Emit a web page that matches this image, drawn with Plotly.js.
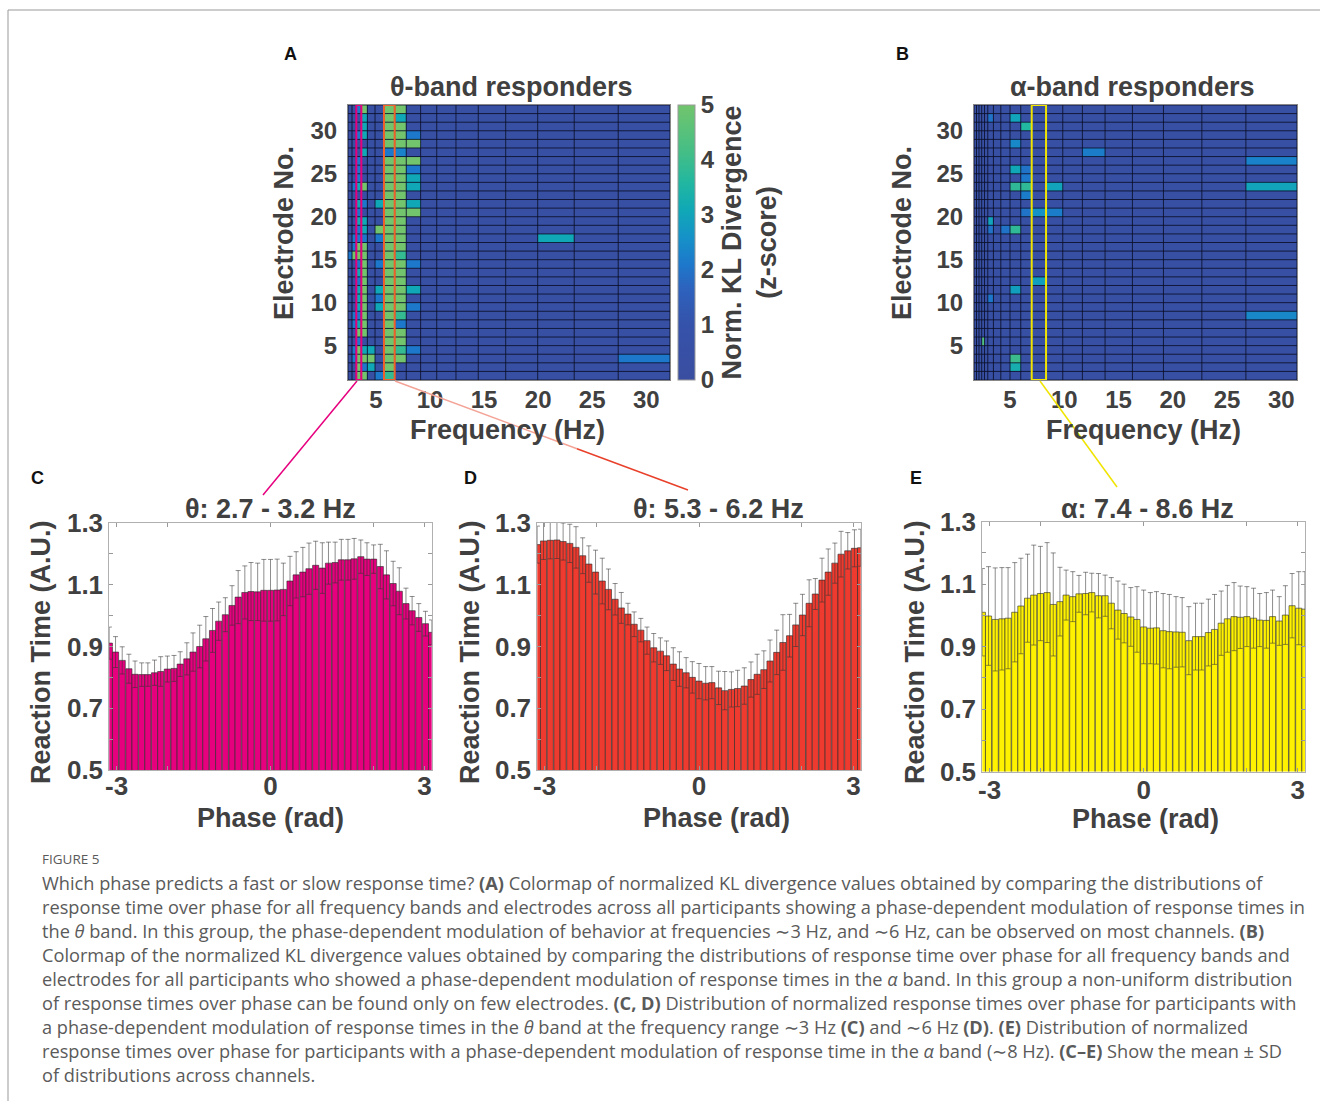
<!DOCTYPE html>
<html><head><meta charset="utf-8">
<script src="https://cdn.plot.ly/plotly-3.0.1.min.js"></script>
<style>html,body{margin:0;padding:0;background:#fff;}#chart{width:1320px;height:1101px;}</style>
</head><body><div id="chart"></div>
<script>
// ---------- DATA ----------
const freqEdgesTheta = [2.41, 2.78, 3.18, 3.64, 4.20, 4.91, 5.74, 6.73, 7.80, 9.13, 10.62, 12.40, 14.46, 17.00, 19.96, 23.34, 27.41, 32.20];
const freqEdgesAlpha = [1.68, 1.91, 2.14, 2.39, 2.65, 2.95, 3.47, 4.15, 5.00, 5.99, 7.00, 8.32, 9.86, 11.67, 13.76, 16.28, 19.14, 22.68, 26.74, 31.45];
const electrodeEdges = [1,2,3,4,5,6,7,8,9,10,11,12,13,14,15,16,17,18,19,20,21,22,23,24,25,26,27,28,29,30,31,32,33];
const freqTicks = [5, 10, 15, 20, 25, 30];
const electrodeTicks = [5, 10, 15, 20, 25, 30];

// rows listed from electrode 32 (top) down to electrode 1 (bottom)
const klThetaTopDown = [
 [.4,.4,2.1,5,.4,.4,5,5,.4,.4,.4,.4,.4,.4,.4,.4,.4],
 [.4,.4,.4,3.1,.4,.4,5,3.1,.4,.4,.4,.4,.4,.4,.4,.4,.4],
 [.4,.4,.4,3.1,.4,.4,5,5,.4,.4,.4,.4,.4,.4,.4,.4,.4],
 [.4,.4,2.1,3.1,.4,.4,5,5,2.1,.4,.4,.4,.4,.4,.4,.4,.4],
 [.4,.4,.4,.4,.4,.4,5,5,5,.4,.4,.4,.4,.4,.4,.4,.4],
 [.4,.4,.4,3.1,.4,.4,2.1,2.3,.4,.4,.4,.4,.4,.4,.4,.4,.4],
 [.4,.4,2.1,.4,.4,.4,5,5,5,.4,.4,.4,.4,.4,.4,.4,.4],
 [.4,.4,2.1,.4,.4,.4,5,5,2.1,.4,.4,.4,.4,.4,.4,.4,.4],
 [.4,.4,2.1,.4,.4,.4,5,5,3.1,.4,.4,.4,.4,.4,.4,.4,.4],
 [.4,2.1,3.1,5,.4,.4,5,5,3.1,.4,.4,.4,.4,.4,.4,.4,.4],
 [.4,.4,.4,.4,.4,.4,5,5,.4,.4,.4,.4,.4,.4,.4,.4,.4],
 [.4,.4,3.1,2.1,.4,3.1,5,5,3.1,.4,.4,.4,.4,.4,.4,.4,.4],
 [.4,.4,2.1,.4,.4,.4,5,5,5,.4,.4,.4,.4,.4,.4,.4,.4],
 [.4,.4,3.1,3.1,.4,.4,5,5,.4,.4,.4,.4,.4,.4,.4,.4,.4],
 [.4,.4,2.1,3.1,.4,5,5,5,.4,.4,.4,.4,.4,.4,.4,.4,.4],
 [.4,2.1,2.1,2.1,.4,2.1,5,5,.4,.4,.4,.4,.4,.4,3.1,.4,.4],
 [.4,2.1,5,5,.4,.4,5,5,.4,.4,.4,.4,.4,.4,.4,.4,.4],
 [2.1,5,5,5,.4,.4,5,3.9,.4,.4,.4,.4,.4,.4,.4,.4,.4],
 [.4,.4,2.1,5,.4,2.1,5,5,2.1,.4,.4,.4,.4,.4,.4,.4,.4],
 [.4,.4,3.1,5,.4,.4,5,5,.4,.4,.4,.4,.4,.4,.4,.4,.4],
 [.4,.4,2.1,5,.4,.4,5,5,.4,.4,.4,.4,.4,.4,.4,.4,.4],
 [.4,.4,3.1,5,.4,3.1,5,5,3.1,.4,.4,.4,.4,.4,.4,.4,.4],
 [.4,.4,3.1,5,.4,2.1,5,5,.4,.4,.4,.4,.4,.4,.4,.4,.4],
 [.4,.4,3.1,5,.4,3.1,5,5,2.1,.4,.4,.4,.4,.4,.4,.4,.4],
 [.4,2.1,2.1,5,.4,.4,5,3.9,.4,.4,.4,.4,.4,.4,.4,.4,.4],
 [.4,2.1,3.1,5,.4,.4,5,2.1,.4,.4,.4,.4,.4,.4,.4,.4,.4],
 [.4,.4,5,5,.4,.4,5,5,.4,.4,.4,.4,.4,.4,.4,.4,.4],
 [.4,.4,2.1,.4,.4,.4,5,5,.4,.4,.4,.4,.4,.4,.4,.4,.4],
 [.4,2.1,5,3.1,3.1,.4,5,3.9,2.1,.4,.4,.4,.4,.4,.4,.4,.4],
 [.4,2.1,5,5,5,.4,5,5,.4,.4,.4,.4,.4,.4,.4,.4,2.1],
 [.4,.4,5,2.1,3.1,.4,5,.4,.4,.4,.4,.4,.4,.4,.4,.4,.4],
 [.4,.4,5,5,.4,2.1,3.9,.4,.4,.4,.4,.4,.4,.4,.4,.4,.4]
];
const klAlphaTopDown = [
 [.4,.4,.4,.4,.4,.4,.4,.4,.4,.4,.4,.4,.4,.4,.4,.4,.4,.4,.4],
 [.4,.4,.4,.4,.4,2.0,.4,.4,3.0,.4,.4,.4,.4,.4,.4,.4,.4,.4,.4],
 [.4,.4,.4,.4,.4,.4,.4,.4,.4,3.6,.4,.4,.4,.4,.4,.4,.4,.4,.4],
 [.4,.4,.4,.4,.4,.4,.4,.4,.4,.4,.4,.4,.4,.4,.4,.4,.4,.4,.4],
 [.4,.4,.4,.4,.4,.4,.4,.4,2.4,.4,.4,.4,.4,.4,.4,.4,.4,.4,.4],
 [.4,.4,.4,.4,.4,.4,.4,.4,.4,.4,.4,.4,.4,2.2,.4,.4,.4,.4,.4],
 [.4,.4,.4,.4,.4,.4,.4,.4,.4,.4,.4,.4,.4,.4,.4,.4,.4,.4,2.3],
 [.4,.4,.4,.4,.4,.4,.4,.4,3.1,2.0,.4,.4,.4,.4,.4,.4,.4,.4,.4],
 [.4,.4,.4,.4,.4,.4,.4,.4,.4,2.1,.4,.4,.4,.4,.4,.4,.4,.4,.4],
 [.4,.4,.4,.4,.4,.4,.4,.4,3.8,3.8,.4,3.0,.4,.4,.4,.4,.4,.4,3.0],
 [.4,.4,.4,.4,.4,.4,.4,.4,.4,2.2,.4,.4,.4,.4,.4,.4,.4,.4,.4],
 [.4,.4,.4,.4,.4,.4,.4,.4,.4,.4,.4,.4,.4,.4,.4,.4,.4,.4,.4],
 [.4,.4,.4,.4,.4,.4,.4,.4,.4,2.0,2.6,2.2,.4,.4,.4,.4,.4,.4,.4],
 [.4,.4,.4,.4,.4,3.0,.4,.4,.4,.4,.4,.4,.4,.4,.4,.4,.4,.4,.4],
 [.4,.4,.4,.4,.4,2.0,.4,2.0,3.8,.4,.4,.4,.4,.4,.4,.4,.4,.4,.4],
 [.4,.4,.4,.4,.4,.4,.4,.4,.4,.4,.4,.4,.4,.4,.4,.4,.4,.4,.4],
 [.4,.4,.4,.4,.4,.4,.4,.4,.4,.4,.4,.4,.4,.4,.4,.4,.4,.4,.4],
 [.4,.4,.4,.4,.4,.4,.4,.4,.4,.4,.4,.4,.4,.4,.4,.4,.4,.4,.4],
 [.4,.4,.4,.4,.4,.4,.4,.4,.4,.4,.4,.4,.4,.4,.4,.4,.4,.4,.4],
 [.4,.4,.4,.4,.4,.4,.4,.4,.4,.4,.4,.4,.4,.4,.4,.4,.4,.4,.4],
 [.4,.4,.4,.4,.4,.4,.4,.4,.4,.4,2.9,.4,.4,.4,.4,.4,.4,.4,.4],
 [.4,.4,.4,.4,.4,.4,.4,.4,2.9,.4,.4,.4,.4,.4,.4,.4,.4,.4,.4],
 [.4,.4,.4,.4,.4,2.1,.4,.4,.4,.4,.4,.4,.4,.4,.4,.4,.4,.4,.4],
 [.4,.4,.4,.4,.4,.4,.4,.4,.4,.4,.4,.4,.4,.4,.4,.4,.4,.4,.4],
 [.4,.4,.4,.4,.4,.4,.4,.4,.4,.4,.4,.4,.4,.4,.4,.4,.4,.4,2.4],
 [.4,.4,.4,.4,.4,.4,.4,.4,.4,.4,.4,.4,.4,.4,.4,.4,.4,.4,.4],
 [.4,.4,.4,.4,.4,.4,.4,.4,.4,.4,.4,.4,.4,.4,.4,.4,.4,.4,.4],
 [.4,.4,.4,4.4,.4,.4,.4,.4,.4,.4,.4,.4,.4,.4,.4,.4,.4,.4,.4],
 [.4,.4,.4,.4,.4,.4,.4,.4,.4,.4,.4,.4,.4,.4,.4,.4,.4,.4,.4],
 [.4,.4,.4,.4,.4,.4,.4,.4,4.0,.4,.4,.4,.4,.4,.4,.4,.4,.4,.4],
 [.4,.4,.4,.4,.4,.4,.4,.4,3.3,.4,.4,.4,.4,.4,.4,.4,.4,.4,.4],
 [.4,.4,.4,.4,.4,.4,.4,.4,.4,.4,.4,.4,.4,.4,.4,.4,.4,.4,.4]
];

const phase = [-3.14,-3.02,-2.89,-2.76,-2.64,-2.51,-2.39,-2.26,-2.14,-2.01,-1.88,-1.76,-1.63,-1.51,-1.38,-1.26,-1.13,-1.01,-0.88,-0.75,-0.63,-0.50,-0.38,-0.25,-0.13,0,0.13,0.25,0.38,0.50,0.63,0.75,0.88,1.01,1.13,1.26,1.38,1.51,1.63,1.76,1.88,2.01,2.14,2.26,2.39,2.51,2.64,2.76,2.89,3.02,3.14];
const phaseTicks = [-3, -2, 0, 2, 3];
const phaseTickText = ['-3', '', '0', '', '3'];
const rtTicks = [0.5,0.6,0.7,0.8,0.9,1.0,1.1,1.2,1.3];
const rtTickText = ['0.5','','0.7','','0.9','','1.1','','1.3'];

const rtTheta3Mean = [0.911,0.882,0.855,0.828,0.810,0.809,0.809,0.815,0.819,0.827,0.829,0.843,0.860,0.882,0.900,0.925,0.952,0.982,1.003,1.033,1.060,1.075,1.078,1.077,1.082,1.082,1.083,1.085,1.112,1.132,1.141,1.152,1.163,1.154,1.170,1.172,1.181,1.181,1.184,1.191,1.183,1.183,1.159,1.132,1.104,1.079,1.039,1.016,0.994,0.974,0.946];
const rtTheta3SD = [0.052,0.050,0.044,0.047,0.043,0.038,0.038,0.041,0.048,0.042,0.042,0.040,0.052,0.062,0.069,0.072,0.071,0.062,0.055,0.064,0.086,0.086,0.094,0.093,0.100,0.100,0.100,0.085,0.080,0.075,0.080,0.083,0.078,0.082,0.068,0.066,0.066,0.066,0.066,0.054,0.053,0.046,0.072,0.078,0.072,0.076,0.050,0.046,0.045,0.040,0.040];
const rtTheta6Mean = [1.230,1.242,1.244,1.245,1.240,1.234,1.221,1.194,1.167,1.141,1.112,1.085,1.053,1.025,1.005,0.972,0.953,0.919,0.896,0.885,0.870,0.843,0.827,0.815,0.800,0.788,0.781,0.783,0.766,0.757,0.761,0.764,0.772,0.793,0.810,0.825,0.853,0.881,0.913,0.935,0.970,1.002,1.040,1.070,1.115,1.141,1.170,1.199,1.210,1.218,1.220];
const rtTheta6SD = [0.060,0.060,0.060,0.060,0.060,0.062,0.067,0.058,0.059,0.071,0.074,0.066,0.051,0.050,0.035,0.040,0.038,0.044,0.046,0.043,0.048,0.053,0.056,0.049,0.051,0.057,0.054,0.052,0.054,0.062,0.057,0.059,0.059,0.057,0.065,0.061,0.068,0.072,0.090,0.069,0.070,0.067,0.076,0.050,0.071,0.075,0.065,0.074,0.059,0.060,0.060];
const rtAlpha8Mean = [1.010,0.998,0.987,0.989,0.991,1.010,1.030,1.055,1.065,1.070,1.073,1.035,1.044,1.065,1.060,1.069,1.070,1.073,1.063,1.063,1.039,1.017,1.006,0.995,0.987,0.963,0.959,0.960,0.951,0.948,0.947,0.946,0.919,0.932,0.932,0.945,0.955,0.975,0.989,0.996,0.994,0.996,0.991,0.985,0.984,0.996,0.982,1.001,1.031,1.023,1.020];
const rtAlpha8SD = [0.140,0.158,0.165,0.164,0.162,0.159,0.153,0.141,0.160,0.151,0.160,0.165,0.110,0.080,0.080,0.059,0.068,0.062,0.071,0.066,0.082,0.093,0.094,0.094,0.105,0.118,0.114,0.116,0.119,0.119,0.113,0.111,0.109,0.107,0.107,0.107,0.112,0.103,0.107,0.109,0.100,0.096,0.096,0.085,0.089,0.085,0.078,0.094,0.103,0.117,0.120];

// ---------- LAYOUT HELPERS ----------
const W = 1320, H = 1101;
const fx = p => p / W;
const fy = p => 1 - p / H;
const FONT = 'Liberation Sans, Arial, sans-serif';
const TXT = '#404040';
const tick24 = {family: FONT, size: 24, color: TXT, weight: 'bold'};
const tick26 = {family: FONT, size: 26, color: TXT, weight: 'bold'};
const lab27 = {family: FONT, size: 27, color: TXT, weight: 'bold'};

const colors = [
  [0.00, '#3a4ea0'], [0.20, '#3552aa'], [0.33, '#2d62bd'], [0.42, '#1d78cb'],
  [0.52, '#1592c8'], [0.62, '#10a8b6'], [0.72, '#22b7a0'], [0.82, '#42bd88'],
  [0.92, '#5cc278'], [1.00, '#72c46d']
];

const reverseRows = m => m.slice().reverse();

const data = [
  {type: 'heatmap', x: freqEdgesTheta, y: electrodeEdges, z: reverseRows(klThetaTopDown),
   zmin: 0, zmax: 5, colorscale: colors, xaxis: 'x', yaxis: 'y', hoverinfo: 'skip',
   colorbar: {x: fx(678), xanchor: 'left', xref: 'paper', y: fy(380), yanchor: 'bottom', yref: 'paper',
     len: 275 / H, lenmode: 'fraction', thickness: 17, thicknessmode: 'pixels', xpad: 0, ypad: 0,
     outlinewidth: 1, outlinecolor: '#999', tickvals: [0,1,2,3,4,5], ticks: '',
     tickfont: tick24, ticklabelstandoff: 2,
     title: {text: 'Norm. KL Divergence<br>(z-score)', side: 'right', font: lab27}}},
  {type: 'heatmap', x: freqEdgesAlpha, y: electrodeEdges, z: reverseRows(klAlphaTopDown),
   zmin: 0, zmax: 5, colorscale: colors, showscale: false, xaxis: 'x2', yaxis: 'y2', hoverinfo: 'skip'}
];

const barSpecs = [
  {mean: rtTheta3Mean, sd: rtTheta3SD, color: '#e6007e', xa: 'x3', ya: 'y3'},
  {mean: rtTheta6Mean, sd: rtTheta6SD, color: '#ef3b2f', xa: 'x4', ya: 'y4'},
  {mean: rtAlpha8Mean, sd: rtAlpha8SD, color: '#fff200', xa: 'x5', ya: 'y5'}
];
const barWidth = phase[1] - phase[0];
barSpecs.forEach(s => {
  data.push({type: 'bar', x: phase, y: s.mean, width: barWidth, xaxis: s.xa, yaxis: s.ya,
    marker: {color: s.color, line: {color: 'rgba(40,40,40,0.75)', width: 0.8}},
    error_y: {type: 'data', array: s.sd, visible: true, color: 'rgba(50,50,50,0.55)', thickness: 1, width: 2.5},
    hoverinfo: 'skip'});
});

function hmX(dom, edges) {
  return {domain: dom, range: [edges[0], edges[edges.length - 1]], tickvals: freqTicks, ticks: '',
    tickfont: tick24, ticklabelstandoff: -2, showline: true, mirror: true, linecolor: '#888', linewidth: 1,
    showgrid: false, zeroline: false, fixedrange: true};
}
function hmY(dom, anchor) {
  return {domain: dom, anchor: anchor, range: [1, 33], tickvals: electrodeTicks, ticks: '',
    tickfont: tick24, ticklabelstandoff: 5, showline: true, mirror: true, linecolor: '#888', linewidth: 1,
    showgrid: false, zeroline: false, fixedrange: true};
}
function barX(dom, anchor, so) {
  return {domain: dom, anchor: anchor, range: [-Math.PI, Math.PI], tickvals: phaseTicks, ticktext: phaseTickText,
    ticks: 'inside', ticklen: 4, tickcolor: '#999', tickfont: tick26, ticklabelstandoff: so,
    showline: true, mirror: 'ticks', linecolor: '#b0b0b0', linewidth: 1, showgrid: false, zeroline: false};
}
function barY(dom, anchor) {
  return {domain: dom, anchor: anchor, range: [0.5, 1.3], tickvals: rtTicks, ticktext: rtTickText,
    ticks: 'inside', ticklen: 4, tickcolor: '#999', tickfont: tick26, ticklabelstandoff: 0,
    showline: true, mirror: 'ticks', linecolor: '#b0b0b0', linewidth: 1, showgrid: false, zeroline: false};
}

const yHm = [fy(380), fy(105)];
const yBar = [fy(770), fy(523)];

const layout = {
  width: W, height: H, margin: {l: 0, r: 0, t: 0, b: 0}, paper_bgcolor: '#fff', plot_bgcolor: '#fff',
  showlegend: false, font: {family: FONT, color: TXT},
  xaxis: Object.assign(hmX([fx(348), fx(670)], freqEdgesTheta), {anchor: 'y'}),
  yaxis: hmY(yHm, 'x'),
  xaxis2: Object.assign(hmX([fx(974), fx(1297)], freqEdgesAlpha), {anchor: 'y2'}),
  yaxis2: hmY(yHm, 'x2'),
  xaxis3: barX([fx(109.3), fx(431.7)], 'y3', -7), yaxis3: barY(yBar, 'x3'),
  xaxis4: barX([fx(537.3), fx(860.7)], 'y4', -7), yaxis4: barY(yBar, 'x4'),
  xaxis5: barX([fx(982.3), fx(1305)], 'y5', -5), yaxis5: barY([fy(771.5), fy(521.7)], 'x5'),
  shapes: [], annotations: []
};

// cell grid lines derived from the bin edges
function gridLines(edges, xr, yr) {
  edges.forEach(e => layout.shapes.push({type: 'line', xref: xr, yref: yr, x0: e, x1: e,
    y0: electrodeEdges[0], y1: electrodeEdges[electrodeEdges.length - 1], line: {color: 'rgba(10,15,40,0.85)', width: 1}}));
  electrodeEdges.forEach(e => layout.shapes.push({type: 'line', xref: xr, yref: yr, x0: edges[0], x1: edges[edges.length - 1],
    y0: e, y1: e, line: {color: 'rgba(10,15,40,0.85)', width: 1}}));
}
gridLines(freqEdgesTheta, 'x', 'y');
gridLines(freqEdgesAlpha, 'x2', 'y2');

// highlighted bands
layout.shapes.push({type: 'rect', xref: 'x', yref: 'y', x0: freqEdgesTheta[2], x1: freqEdgesTheta[3], y0: 1, y1: 33, line: {color: '#e6007e', width: 2}});
layout.shapes.push({type: 'rect', xref: 'x', yref: 'y', x0: freqEdgesTheta[6], x1: freqEdgesTheta[7], y0: 1, y1: 33, line: {color: '#f0602a', width: 2}});
layout.shapes.push({type: 'rect', xref: 'x2', yref: 'y2', x0: freqEdgesAlpha[10], x1: freqEdgesAlpha[11], y0: 1, y1: 33, line: {color: '#f0e400', width: 2}});

// connector lines (decorative)
layout.shapes.push({type: 'line', xref: 'paper', yref: 'paper', x0: fx(357), y0: fy(381), x1: fx(263), y1: fy(495), line: {color: '#e6007e', width: 1.5}});
layout.shapes.push({type: 'line', xref: 'paper', yref: 'paper', x0: fx(395), y0: fy(381), x1: fx(577), y1: fy(448.7), line: {color: '#f4a397', width: 1.5}});
layout.shapes.push({type: 'line', xref: 'paper', yref: 'paper', x0: fx(577), y0: fy(448.7), x1: fx(688), y1: fy(490), line: {color: '#e8402a', width: 1.5}});
layout.shapes.push({type: 'line', xref: 'paper', yref: 'paper', x0: fx(1040), y0: fy(381), x1: fx(1117), y1: fy(487), line: {color: '#f0e400', width: 1.5}});

// figure frame
layout.shapes.push({type: 'line', xref: 'paper', yref: 'paper', x0: fx(8), y0: fy(10), x1: 1, y1: fy(10), line: {color: '#999', width: 1}});
layout.shapes.push({type: 'line', xref: 'paper', yref: 'paper', x0: fx(8), y0: fy(10), x1: fx(8), y1: 0, line: {color: '#999', width: 1}});

function ann(text, x, y, opts) {
  layout.annotations.push(Object.assign({text: text, x: fx(x), y: fy(y), xref: 'paper', yref: 'paper',
    showarrow: false, xanchor: 'center', yanchor: 'middle', font: lab27}, opts || {}));
}
// titles
ann('<b>θ-band responders</b>', 511, 87);
ann('<b>α-band responders</b>', 1132, 87);
ann('<b>θ: 2.7 - 3.2 Hz</b>', 270, 509);
ann('<b>θ: 5.3 - 6.2 Hz</b>', 718, 509);
ann('<b>α: 7.4 - 8.6 Hz</b>', 1147, 509);
// axis titles
ann('<b>Electrode No.</b>', 284, 233, {textangle: -90});
ann('<b>Electrode No.</b>', 902, 233, {textangle: -90});
ann('<b>Frequency (Hz)</b>', 507, 430);
ann('<b>Frequency (Hz)</b>', 1143, 430);
ann('<b>Reaction Time (A.U.)</b>', 41, 652, {textangle: -90});
ann('<b>Reaction Time (A.U.)</b>', 470, 652, {textangle: -90});
ann('<b>Reaction Time (A.U.)</b>', 915, 652, {textangle: -90});
ann('<b>Phase (rad)</b>', 270, 818);
ann('<b>Phase (rad)</b>', 716, 818);
ann('<b>Phase (rad)</b>', 1145, 819);
// panel letters
const letterFont = {family: FONT, size: 18, color: '#111', weight: 'bold'};
ann('<b>A</b>', 290, 54, {font: letterFont});
ann('<b>B</b>', 902, 54, {font: letterFont});
ann('<b>C</b>', 37, 478, {font: letterFont});
ann('<b>D</b>', 470, 478, {font: letterFont});
ann('<b>E</b>', 916, 478, {font: letterFont});

// caption
const capFont = {family: 'Open Sans, Noto Sans, sans-serif', size: 18.2, color: '#5a5a5a'};
ann('FIGURE 5', 40, 859, {xanchor: 'left', font: {family: 'Open Sans, Noto Sans, sans-serif', size: 13.5, color: '#5a5a5a'}});
const captionLines = [
  'Which phase predicts a fast or slow response time? <b>(A)</b> Colormap of normalized KL divergence values obtained by comparing the distributions of',
  'response time over phase for all frequency bands and electrodes across all participants showing a phase-dependent modulation of response times in',
  'the <i>θ</i> band. In this group, the phase-dependent modulation of behavior at frequencies ∼3 Hz, and ∼6 Hz, can be observed on most channels. <b>(B)</b>',
  'Colormap of the normalized KL divergence values obtained by comparing the distributions of response time over phase for all frequency bands and',
  'electrodes for all participants who showed a phase-dependent modulation of response times in the <i>α</i> band. In this group a non-uniform distribution',
  'of response times over phase can be found only on few electrodes. <b>(C, D)</b> Distribution of normalized response times over phase for participants with',
  'a phase-dependent modulation of response times in the <i>θ</i> band at the frequency range ∼3 Hz <b>(C)</b> and ∼6 Hz <b>(D)</b>. <b>(E)</b> Distribution of normalized',
  'response times over phase for participants with a phase-dependent modulation of response time in the <i>α</i> band (∼8 Hz). <b>(C–E)</b> Show the mean ± SD',
  'of distributions across channels.'
];
captionLines.forEach((t, i) => ann(t, 40, 883 + 24 * i, {xanchor: 'left', font: capFont}));

Plotly.newPlot('chart', data, layout, {staticPlot: true, displayModeBar: false});
</script>
</body></html>
